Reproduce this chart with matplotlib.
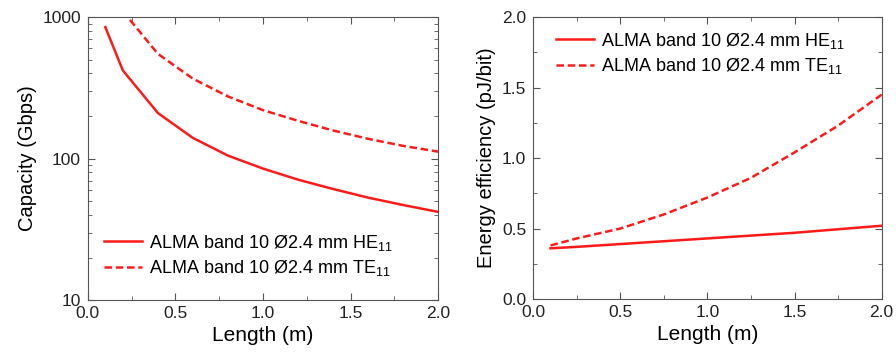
import matplotlib
matplotlib.use("Agg")
import matplotlib.pyplot as plt
from matplotlib.ticker import MultipleLocator, LogLocator, FixedLocator, NullFormatter

plt.rcParams['font.family'] = ['Liberation Sans', 'DejaVu Sans']
plt.rcParams['mathtext.default'] = 'regular'

# capacity vs length
len_he = [0.1, 0.2, 0.4, 0.6, 0.8, 1.0, 1.2, 1.4, 1.6, 1.8, 2.0]
cap_he = [850, 420, 210, 140, 105, 85, 71, 61, 53, 47, 42]
len_te = [0.2, 0.4, 0.6, 0.8, 1.0, 1.2, 1.4, 1.6, 1.8, 2.0]
cap_te = [1100, 550, 367, 275, 220, 185, 158, 138, 123, 112]

# energy efficiency vs length
len_eff = [0.1, 0.25, 0.5, 0.75, 1.0, 1.25, 1.5, 1.75, 2.0]
eff_he = [0.36, 0.37, 0.39, 0.41, 0.43, 0.45, 0.47, 0.495, 0.52]
eff_te = [0.38, 0.43, 0.50, 0.60, 0.72, 0.86, 1.04, 1.23, 1.45]

lab_he = 'ALMA band 10 Ø2.4 mm HE$_{11}$'
lab_te = 'ALMA band 10 Ø2.4 mm TE$_{11}$'
rouge = '#ff1a1a'
gris = '#555555'

fig = plt.figure(figsize=(8.96, 3.56), dpi=100)
ax1 = fig.add_axes([0.098, 0.157, 0.391, 0.795])
ax2 = fig.add_axes([0.595, 0.160, 0.389, 0.792])

ax1.plot(len_he, cap_he, color=rouge, lw=1.8, label=lab_he)
ax1.plot(len_te, cap_te, color=rouge, lw=1.8, ls=(0, (3, 1.5)), label=lab_te)
ax1.set_yscale('log')
ax1.set_xlim(0, 2.0)
ax1.set_ylim(10, 1000)
ax1.set_ylabel('Capacity (Gbps)', fontsize=14.5)
ax1.yaxis.set_major_locator(FixedLocator([10, 100, 1000]))
ax1.set_yticklabels(['10', '100', '1000'])
ax1.yaxis.set_minor_locator(LogLocator(base=10, subs=[2, 3, 4, 5, 6, 7, 8, 9]))
ax1.yaxis.set_minor_formatter(NullFormatter())
ax1.legend(loc='lower left', bbox_to_anchor=(0.0, 0.02), frameon=False, fontsize=13,
           handlelength=2.1, handletextpad=0.4, labelspacing=0.3)

ax2.plot(len_eff, eff_he, color=rouge, lw=1.8, label=lab_he)
ax2.plot(len_eff, eff_te, color=rouge, lw=1.8, ls=(0, (3, 1.5)), label=lab_te)
ax2.set_xlim(0, 2.0)
ax2.set_ylim(0, 2.0)
ax2.set_ylabel('Energy efficiency (pJ/bit)', fontsize=14.5)
ax2.yaxis.set_major_locator(MultipleLocator(0.5))
ax2.yaxis.set_minor_locator(MultipleLocator(0.25))
ax2.legend(loc='upper left', bbox_to_anchor=(0.02, 1.01), frameon=False, fontsize=13,
           handlelength=2.1, handletextpad=0.4, labelspacing=0.3)

for ax in (ax1, ax2):
    ax.set_xlabel('Length (m)', fontsize=15)
    ax.xaxis.set_major_locator(MultipleLocator(0.5))
    ax.xaxis.set_minor_locator(MultipleLocator(0.25))
    ax.tick_params(which='both', direction='in', top=True, right=True, colors=gris,
                   labelcolor='#222222', labelsize=12.5)
    ax.tick_params(which='major', length=5)
    ax.tick_params(which='minor', length=3)
    ax.tick_params(axis='y', pad=5)
    ax.tick_params(axis='x', pad=4)
    for s in ax.spines.values():
        s.set_color(gris)
    ax.xaxis.set_major_formatter(plt.FuncFormatter(lambda v, p: '%.1f' % v))
ax2.yaxis.set_major_formatter(plt.FuncFormatter(lambda v, p: '%.1f' % v))

fig.savefig('out.png', dpi=100)
